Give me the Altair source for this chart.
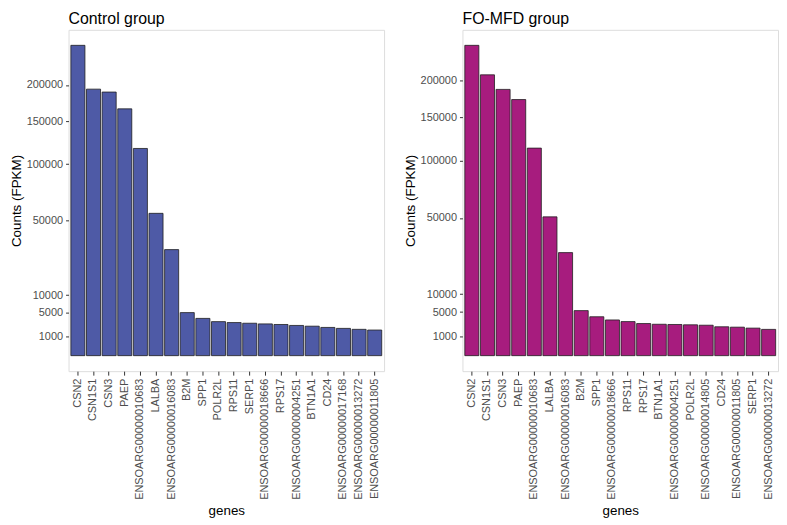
import altair as alt
import pandas as pd

# ---- data ----
control_genes = ["CSN2", "CSN1S1", "CSN3", "PAEP", "ENSOARG00000010683", "LALBA",
                 "ENSOARG00000016083", "B2M", "SPP1", "POLR2L", "RPS11", "SERP1",
                 "ENSOARG00000018666", "RPS17", "ENSOARG00000004251", "BTN1A1", "CD24",
                 "ENSOARG00000017168", "ENSOARG00000013272", "ENSOARG00000011805"]
control_counts = [262900, 193900, 189700, 166300, 117200, 55300, 30700, 5060, 3790, 3160,
                  2990, 2870, 2750, 2650, 2490, 2370, 2175, 2030, 1890, 1790]

fo_genes = ["CSN2", "CSN1S1", "CSN3", "PAEP", "ENSOARG00000010683", "LALBA",
            "ENSOARG00000016083", "B2M", "SPP1", "ENSOARG00000018666", "RPS11", "RPS17",
            "BTN1A1", "ENSOARG00000004251", "POLR2L", "ENSOARG00000014805", "CD24",
            "ENSOARG00000011805", "SERP1", "ENSOARG00000013272"]
fo_counts = [254000, 208000, 187000, 173000, 113600, 50800, 28000, 5350, 3990, 3360,
             3060, 2720, 2600, 2560, 2510, 2445, 2200, 2140, 2000, 1820]

y_ticks = [1000, 5000, 10000, 50000, 100000, 150000, 200000]

FONT = "Liberation Sans"


def panel(genes, counts, title, color):
    df = pd.DataFrame({"genes": genes, "counts": counts, "base": [0] * len(genes)})
    top = max(counts) ** 0.5
    domain = [-(0.05 * top) ** 2, (1.05 * top) ** 2]
    return alt.Chart(df).mark_bar(
        color=color, stroke="#1f1f1f", strokeWidth=0.8
    ).encode(
        x=alt.X("genes:N", sort=genes,
                scale=alt.Scale(paddingInner=0.1, paddingOuter=0.15),
                axis=alt.Axis(title="genes", labelAngle=270, labelFontSize=11,
                              labelColor="#4D4D4D", titleFontSize=13.5,
                              titleFontWeight="normal", titleColor="black",
                              tickColor="#333333", tickSize=4, domain=False,
                              labelPadding=3, titlePadding=4,
                              labelFont=FONT, titleFont=FONT)),
        y=alt.Y("counts:Q",
                scale=alt.Scale(type="sqrt", domain=domain, nice=False, zero=False),
                axis=alt.Axis(title="Counts (FPKM)", values=y_ticks, format="d",
                              labelFontSize=11, labelColor="#4D4D4D",
                              titleFontSize=13.5, titleFontWeight="normal",
                              titleColor="black", tickColor="#333333", tickSize=3,
                              domain=False, grid=False, labelPadding=3,
                              titlePadding=3, labelFont=FONT, titleFont=FONT)),
        y2="base:Q",
    ).properties(
        width=318, height=344,
        title=alt.TitleParams(title, anchor="start", frame="group", fontSize=16,
                              fontWeight="normal", font=FONT, color="black", offset=3),
    )


left = panel(control_genes, control_counts, "Control group", "#4E5AA6")
right = panel(fo_genes, fo_counts, "FO-MFD group", "#A71C7E")

chart = alt.hconcat(left, right, spacing=17).properties(padding=0).configure_view(
    stroke="#A6A6A6", strokeWidth=1
).configure(background="white")

chart.save("out.html", embed_options={"renderer": "svg", "actions": False})
